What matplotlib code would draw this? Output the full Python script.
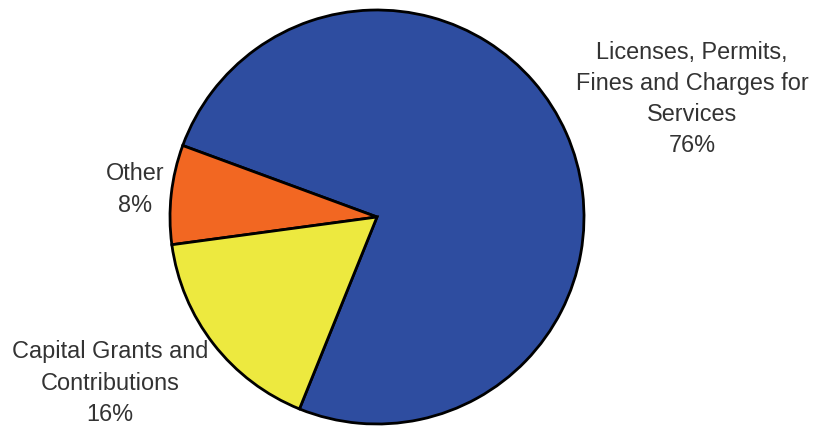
import matplotlib
matplotlib.use("Agg")
import matplotlib.pyplot as plt

categories = ["Licenses, Permits,\nFines and Charges for\nServices", "Other", "Capital Grants and\nContributions"]
values = [75.5, 7.75, 16.75]
pct_labels = ["76%", "8%", "16%"]
colors = ["#2E4DA0", "#F26722", "#EDE93F"]

W, H = 814, 426
fig = plt.figure(figsize=(W / 100, H / 100), dpi=100)
ax = fig.add_axes([0, 0, 1, 1])

cx, cy, r = 377, H - 217, 207
ax.pie(values, colors=colors, startangle=248, counterclock=True,
       center=(cx, cy), radius=r, frame=True,
       wedgeprops=dict(edgecolor="black", linewidth=2.0))
ax.set_xlim(0, W)
ax.set_ylim(0, H)
ax.set_aspect("equal")
ax.axis("off")

label_pos = [(692, H - 99), (135, H - 189.5), (110, H - 383)]
for cat, pct, (x, y) in zip(categories, pct_labels, label_pos):
    ax.text(x, y, f"{cat}\n{pct}", ha="center", va="center", fontsize=16.9,
            family="Liberation Sans", color="#333333", linespacing=1.46)

fig.savefig("out.png", dpi=100)
